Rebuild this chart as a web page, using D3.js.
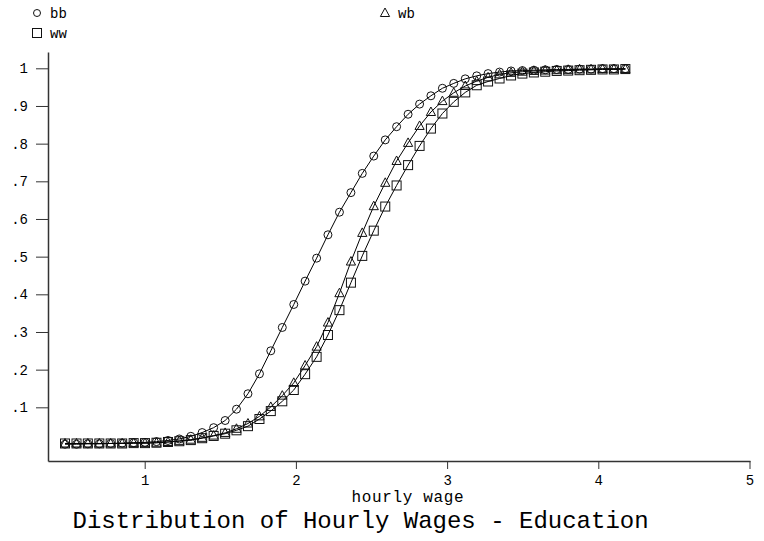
<!DOCTYPE html>
<html>
<head>
<meta charset="utf-8">
<script src="https://cdn.jsdelivr.net/npm/d3@7"></script>
<style>
  html, body { margin: 0; padding: 0; background: #fff; }
  svg { display: block; }
  text { font-family: "Liberation Mono", "Courier New", monospace; fill: #000; }
</style>
</head>
<body>
<svg id="chart" width="764" height="541"></svg>
<script>
// ---- data ----
const wage = [0.473,0.549,0.624,0.700,0.775,0.851,0.927,1.002,1.078,1.154,
  1.229,1.305,1.380,1.456,1.532,1.607,1.683,1.759,1.834,1.910,
  1.986,2.061,2.137,2.212,2.288,2.364,2.439,2.515,2.591,2.666,
  2.742,2.818,2.893,2.969,3.044,3.120,3.196,3.271,3.347,3.423,
  3.498,3.574,3.649,3.725,3.801,3.876,3.952,4.028,4.103,4.179];

const bb = [0.002,0.002,0.003,0.003,0.004,0.005,0.006,0.007,0.009,0.012,
  0.016,0.023,0.033,0.046,0.065,0.095,0.136,0.189,0.250,0.312,
  0.373,0.435,0.496,0.558,0.618,0.670,0.721,0.767,0.810,0.845,
  0.878,0.905,0.927,0.947,0.960,0.972,0.980,0.986,0.990,0.993,
  0.994,0.995,0.996,0.997,0.997,0.998,0.998,0.999,0.999,0.999];

const wb = [0.004,0.004,0.004,0.004,0.004,0.004,0.005,0.005,0.006,0.008,
  0.011,0.014,0.019,0.025,0.032,0.043,0.057,0.076,0.101,0.131,
  0.165,0.211,0.261,0.325,0.403,0.487,0.563,0.634,0.696,0.754,
  0.802,0.847,0.884,0.913,0.935,0.953,0.966,0.976,0.984,0.988,
  0.991,0.993,0.994,0.995,0.996,0.997,0.997,0.998,0.998,0.998];

const ww = [0.004,0.004,0.004,0.004,0.004,0.004,0.005,0.005,0.006,0.008,
  0.010,0.013,0.018,0.024,0.030,0.039,0.050,0.069,0.090,0.116,
  0.146,0.188,0.234,0.292,0.358,0.431,0.502,0.569,0.633,0.689,
  0.743,0.794,0.840,0.880,0.911,0.936,0.955,0.965,0.973,0.981,
  0.986,0.989,0.991,0.993,0.994,0.995,0.996,0.997,0.997,0.998];

const seriesNames = ["bb", "wb", "ww"];
const xTicks = [1, 2, 3, 4, 5];
const yTicks = [0.1, 0.2, 0.3, 0.4, 0.5, 0.6, 0.7, 0.8, 0.9, 1];
const xTitle = "hourly wage";
const chartTitle = "Distribution of Hourly Wages - Education";

// ---- drawing ----
const svg = d3.select("#chart");
const x = d3.scaleLinear().domain([0.3605, 5.0033]).range([48, 750]);
const y = d3.scaleLinear().domain([-0.0425, 1.0433]).range([461, 52]);

const axisColor = "#333";

// y axis
const yAxis = svg.append("g").attr("transform", "translate(48,0)")
  .call(d3.axisLeft(y).tickValues(yTicks).tickSize(12).tickSizeOuter(0).tickPadding(8)
    .tickFormat(d => d === 1 ? "1" : d3.format(".1f")(d).replace(/^0/, "")));
// x axis
const xAxis = svg.append("g").attr("transform", "translate(0,461)")
  .call(d3.axisBottom(x).tickValues(xTicks).tickSize(8).tickSizeOuter(0).tickPadding(6)
    .tickFormat(d3.format("d")));

[yAxis, xAxis].forEach(g => {
  g.select(".domain").attr("stroke", axisColor).attr("stroke-width", 1.5);
  g.selectAll(".tick line").attr("stroke", axisColor).attr("stroke-width", 1);
  g.selectAll(".tick text").style("font-family", "Liberation Mono, monospace")
    .style("font-size", "14px").attr("fill", "#000");
});

// marker shapes
const shapes = {
  bb: g => g.append("circle").attr("r", 4),
  wb: g => g.append("path").attr("d", "M0,-5L4.6,3.5L-4.6,3.5Z"),
  ww: g => g.append("rect").attr("x", -4.5).attr("y", -4.5).attr("width", 9).attr("height", 9)
};

const dataBy = { bb: bb, wb: wb, ww: ww };
const line = d3.line().x(d => x(d[0])).y(d => y(d[1]));

seriesNames.forEach(name => {
  const pts = wage.map((w, i) => [w, dataBy[name][i]]);
  svg.append("path").datum(pts)
    .attr("d", line).attr("fill", "none").attr("stroke", "#000").attr("stroke-width", 1);
  const mg = svg.append("g");
  pts.forEach(p => {
    const g = mg.append("g").attr("transform", `translate(${x(p[0])},${y(p[1])})`);
    shapes[name](g).attr("fill", "none").attr("stroke", "#111").attr("stroke-width", 1);
  });
});

// legend
const legend = [
  { name: "bb", mx: 37, my: 13 },
  { name: "wb", mx: 385, my: 13 },
  { name: "ww", mx: 37, my: 33 }
];
legend.forEach(l => {
  const g = svg.append("g").attr("transform", `translate(${l.mx},${l.my})`);
  const s = shapes[l.name](g).attr("fill", "none").attr("stroke", "#111").attr("stroke-width", 1);
  if (l.name === "bb") s.attr("r", 3.5);
  svg.append("text").attr("x", l.mx + 13).attr("y", l.my + 5)
    .style("font-size", "14px").text(l.name);
});

// axis title & chart title
svg.append("text").attr("x", 351.5).attr("y", 502).style("font-size", "16px")
  .attr("textLength", 112).attr("lengthAdjust", "spacing").text(xTitle);
svg.append("text").attr("x", 72.5).attr("y", 528).style("font-size", "24px").text(chartTitle);
</script>
</body>
</html>
